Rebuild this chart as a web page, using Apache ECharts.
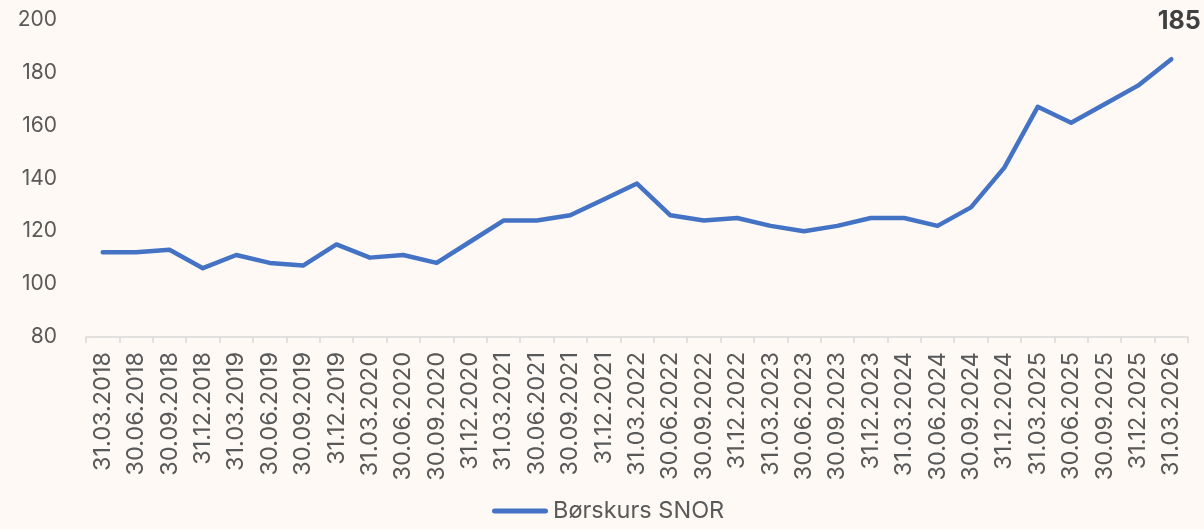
<!DOCTYPE html>
<html>
<head>
<meta charset="utf-8">
<script src="https://cdn.jsdelivr.net/npm/echarts@6/dist/echarts.min.js"></script>
<style>
  html, body { margin: 0; padding: 0; background: #FEF9F5; }
  #chart { width: 1204px; height: 529px; }
</style>
</head>
<body>
<div id="chart"></div>
<script>
// Quarter-end dates
const quarters = [
  '31.03.2018', '30.06.2018', '30.09.2018', '31.12.2018',
  '31.03.2019', '30.06.2019', '30.09.2019', '31.12.2019',
  '31.03.2020', '30.06.2020', '30.09.2020', '31.12.2020',
  '31.03.2021', '30.06.2021', '30.09.2021', '31.12.2021',
  '31.03.2022', '30.06.2022', '30.09.2022', '31.12.2022',
  '31.03.2023', '30.06.2023', '30.09.2023', '31.12.2023',
  '31.03.2024', '30.06.2024', '30.09.2024', '31.12.2024',
  '31.03.2025', '30.06.2025', '30.09.2025', '31.12.2025',
  '31.03.2026'
];

// Share price per quarter
const borskurs = [
  112, 112, 113, 106,
  111, 108, 107, 115,
  110, 111, 108, 116,
  124, 124, 126, 132,
  138, 126, 124, 125,
  122, 120, 122, 125,
  125, 122, 129, 144,
  167, 161, 168, 175,
  185
];

const yTicks = { min: 80, max: 200, step: 20 };
const seriesName = 'Børskurs SNOR';

const fontFamily = 'Inter, "Noto Sans", sans-serif';
const textColor = '#595959';
const lineColor = '#4472C4';

// Only the latest value carries a label
const seriesData = borskurs.map((v, i) => i === borskurs.length - 1
  ? {
      value: v,
      label: {
        show: true,
        position: 'top',
        offset: [8, -20],
        formatter: '{c}',
        color: '#404040',
        fontWeight: 'bold',
        fontSize: 25,
        fontFamily: fontFamily
      }
    }
  : v);

const chart = echarts.init(document.getElementById('chart'), null, { renderer: 'canvas' });

chart.setOption({
  backgroundColor: '#FEF9F5',
  animation: false,
  grid: { left: 86, right: 16, top: 19.5, bottom: 192, containLabel: false },
  legend: {
    bottom: 1,
    left: 487,
    itemWidth: 56,
    itemHeight: 5,
    itemGap: 10,
    icon: 'path://M2.5,0 L53.5,0 A2.5,2.5 0 0 1 53.5,5 L2.5,5 A2.5,2.5 0 0 1 2.5,0 Z',
    itemStyle: { color: lineColor, opacity: 1 },
    textStyle: { color: textColor, fontSize: 23.5, fontFamily: fontFamily, padding: [0, 0, 0, 0] },
    data: [seriesName]
  },
  xAxis: {
    type: 'category',
    data: quarters,
    boundaryGap: true,
    axisLine: { show: true, lineStyle: { color: '#D9D9D9', width: 1.5 } },
    axisTick: { show: true, interval: 0, length: 6, lineStyle: { color: '#D9D9D9', width: 1.5 } },
    axisLabel: {
      interval: 0,
      rotate: 90,
      margin: 15,
      color: textColor,
      fontSize: 23.5,
      fontFamily: fontFamily
    }
  },
  yAxis: {
    type: 'value',
    min: yTicks.min,
    max: yTicks.max,
    interval: yTicks.step,
    axisLine: { show: false },
    axisTick: { show: false },
    splitLine: { show: false },
    axisLabel: {
      margin: 29,
      color: textColor,
      fontSize: 21,
      fontFamily: fontFamily
    }
  },
  series: [{
    name: seriesName,
    type: 'line',
    data: seriesData,
    symbol: 'circle',
    symbolSize: 0,
    showSymbol: true,
    clip: false,
    lineStyle: { color: lineColor, width: 4.5, cap: 'round', join: 'round' },
    itemStyle: { color: lineColor }
  }]
});
</script>
</body>
</html>
